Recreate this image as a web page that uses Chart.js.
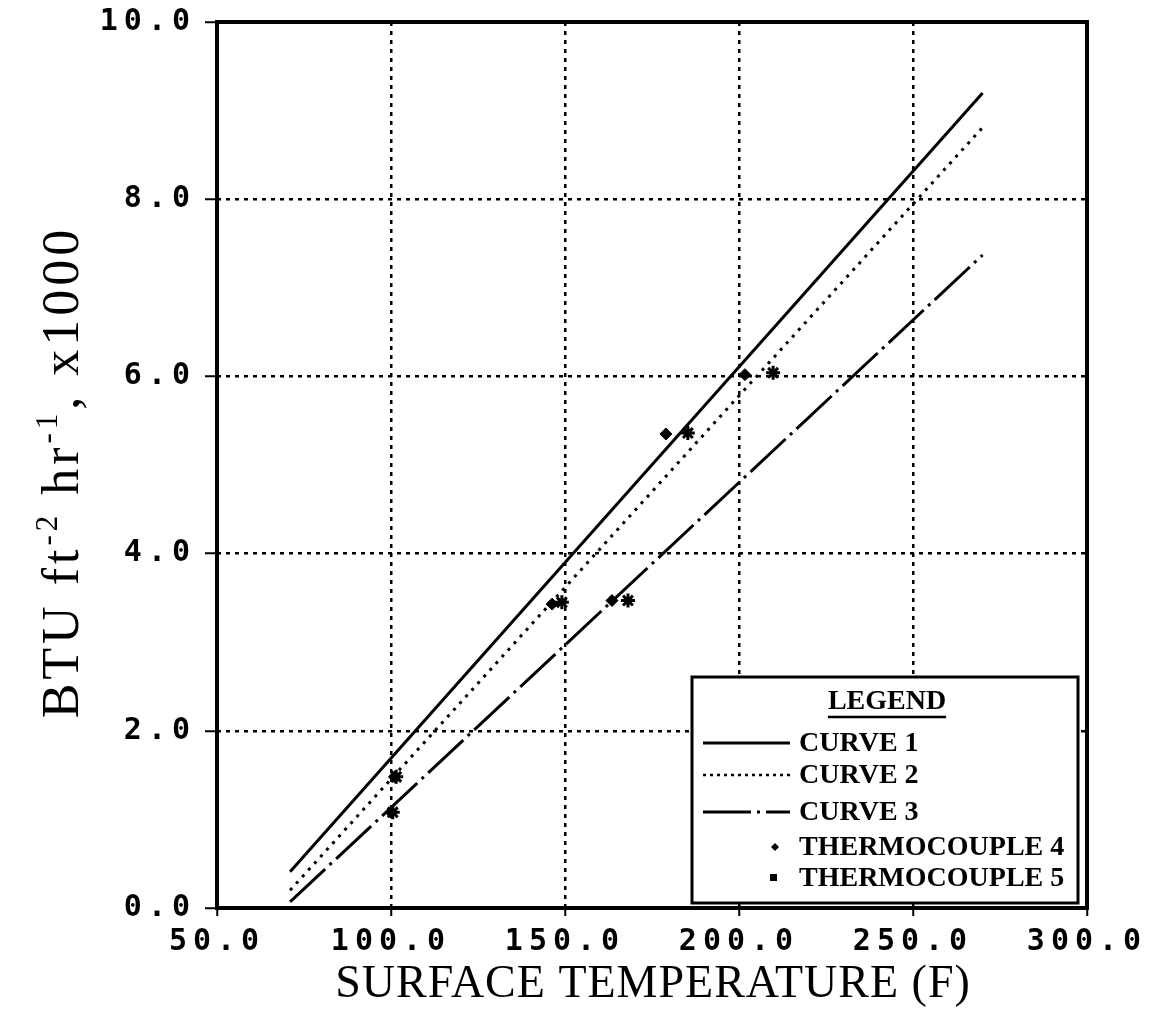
<!DOCTYPE html>
<html>
<head>
<meta charset="utf-8">
<script src="https://cdn.jsdelivr.net/npm/chart.js@4/dist/chart.umd.min.js"></script>
<style>
  html, body { margin: 0; padding: 0; background: #fff; }
  #wrap { width: 1153px; height: 1019px; }
</style>
</head>
<body>
<div id="wrap"><canvas id="chart" width="1153" height="1019"></canvas></div>
<script>
// fitted curves (two end points each)
const curveX = [71, 270];
const curve1Y = [0.41, 9.2];
const curve2Y = [0.2, 8.81];
const curve3Y = [0.07, 7.37];

// measured points
const tc4X = [101, 100, 146.3, 163.5, 179, 201.7];
const tc4Y = [1.48, 1.08, 3.43, 3.47, 5.35, 6.02];
const tc5X = [101.5, 100.5, 149.1, 168.1, 185.3, 209.8];
const tc5Y = [1.48, 1.08, 3.45, 3.47, 5.36, 6.04];

const xTicks = [50, 100, 150, 200, 250, 300];
const yTicks = [0, 2, 4, 6, 8, 10];

const legendItems = ["CURVE 1", "CURVE 2", "CURVE 3", "THERMOCOUPLE 4", "THERMOCOUPLE 5"];

function pts(xs, ys) {
  return xs.map((x, i) => ({ x: x, y: ys[i] }));
}

const PLOT = { left: 217, right: 1087, top: 22, bottom: 908 };

// draws text runs (normal + superscript) left to right, returns width
function runs(ctx, parts, x, y, size, draw) {
  let cx = x;
  parts.forEach(p => {
    const s = p.sup ? Math.round(size * 0.6) : size;
    ctx.font = s + "px 'Liberation Serif'";
    if (draw) ctx.fillText(p.t, cx, p.sup ? y - size * 0.4 : y);
    cx += ctx.measureText(p.t).width;
  });
  return cx - x;
}

const framePlugin = {
  id: "frame",
  beforeDraw(chart) {
    chart.ctx.letterSpacing = "6px";
  },
  afterDraw(chart) {
    const ctx = chart.ctx;
    const a = chart.chartArea;
    ctx.save();
    ctx.letterSpacing = "0px";
    ctx.strokeStyle = "#000";
    ctx.lineWidth = 4;
    ctx.setLineDash([]);
    ctx.strokeRect(a.left, a.top, a.right - a.left, a.bottom - a.top);

    // axis titles
    ctx.fillStyle = "#000";
    ctx.letterSpacing = "1px";
    ctx.font = "46px 'Liberation Serif'";
    ctx.textAlign = "center";
    ctx.textBaseline = "middle";
    ctx.fillText("SURFACE TEMPERATURE (F)", 653, 985);

    const yt = [
      { t: "BTU ft" }, { t: "-2", sup: true }, { t: " hr" }, { t: "-1", sup: true }, { t: ", x1000" }
    ];
    ctx.save();
    ctx.translate(78, 472);
    ctx.rotate(-Math.PI / 2);
    ctx.textAlign = "left";
    ctx.textBaseline = "alphabetic";
    ctx.letterSpacing = "4px";
    const w = runs(ctx, yt, 0, 0, 52, false);
    runs(ctx, yt, -w / 2, 0, 52, true);
    ctx.restore();
    ctx.letterSpacing = "0px";

    // legend box
    const bx = 692, by = 677, bw = 386, bh = 226;
    ctx.fillStyle = "#fff";
    ctx.fillRect(bx, by, bw, bh);
    ctx.lineWidth = 3;
    ctx.strokeRect(bx, by, bw, bh);
    ctx.fillStyle = "#000";
    ctx.font = "bold 28px 'Liberation Serif'";
    ctx.textAlign = "center";
    ctx.textBaseline = "middle";
    ctx.fillText("LEGEND", 887, 702);
    const lw = ctx.measureText("LEGEND").width;
    ctx.lineWidth = 2.5;
    ctx.beginPath();
    ctx.moveTo(887 - lw / 2, 717);
    ctx.lineTo(887 + lw / 2, 717);
    ctx.stroke();

    const rows = [743, 775, 812, 847, 878];
    const ds = chart.data.datasets;
    ctx.textAlign = "left";
    rows.forEach((y, i) => {
      const d = ds[i];
      ctx.fillText(legendItems[i], 799, y + 1);
      if (i < 3) {
        ctx.lineWidth = i === 1 ? 2.5 : 3;
        ctx.setLineDash(i === 1 ? [3, 4] : (d.borderDash || []));
        ctx.beginPath();
        ctx.moveTo(703, y);
        ctx.lineTo(790, y);
        ctx.stroke();
        ctx.setLineDash([]);
      } else if (i === 3) {
        ctx.beginPath();
        ctx.moveTo(775, y - 4); ctx.lineTo(779, y); ctx.lineTo(775, y + 4); ctx.lineTo(771, y);
        ctx.closePath();
        ctx.fill();
      } else {
        ctx.fillRect(770, y - 4, 7, 7);
      }
    });
    ctx.restore();
  }
};

new Chart(document.getElementById("chart"), {
  type: "scatter",
  data: {
    datasets: [
      { label: "CURVE 1", data: pts(curveX, curve1Y), showLine: true, borderColor: "#000", borderWidth: 3, pointRadius: 0 },
      { label: "CURVE 2", data: pts(curveX, curve2Y), showLine: true, borderColor: "#000", borderWidth: 3, borderDash: [3, 6], pointRadius: 0 },
      { label: "CURVE 3", data: pts(curveX, curve3Y), showLine: true, borderColor: "#000", borderWidth: 3, borderDash: [48, 6, 3, 6], pointRadius: 0 },
      { label: "THERMOCOUPLE 4", data: pts(tc4X, tc4Y), showLine: false, pointStyle: "rectRot", pointRadius: 6, backgroundColor: "#000", borderColor: "#000", borderWidth: 1 },
      { label: "THERMOCOUPLE 5", data: pts(tc5X, tc5Y), showLine: false, pointStyle: "star", pointRadius: 7, backgroundColor: "#000", borderColor: "#000", borderWidth: 3 }
    ]
  },
  options: {
    responsive: false,
    animation: false,
    layout: { padding: { top: PLOT.top, right: 1153 - PLOT.right, left: 0, bottom: 0 } },
    plugins: { legend: { display: false }, tooltip: { enabled: false } },
    scales: {
      x: {
        type: "linear",
        min: 50, max: 300,
        afterBuildTicks(scale) { scale.ticks = xTicks.map(v => ({ value: v })); },
        afterFit(scale) {
          scale.height = 1019 - PLOT.bottom;
          scale.paddingLeft = 0; scale.paddingRight = 0;
        },
        ticks: {
          color: "#000",
          font: { family: "'DejaVu Sans Mono'", size: 30, weight: "bold" },
          padding: 8,
          maxRotation: 0,
          callback: v => v.toFixed(1)
        },
        grid: { color: "#000", lineWidth: 2.5, tickLength: 8, tickBorderDash: [], tickWidth: 2 },
        border: { display: false, dash: [4, 5] }
      },
      y: {
        type: "linear",
        min: 0, max: 10,
        afterBuildTicks(scale) { scale.ticks = yTicks.map(v => ({ value: v })); },
        afterFit(scale) {
          scale.width = PLOT.left;
          scale.paddingTop = 0; scale.paddingBottom = 0;
        },
        ticks: {
          color: "#000",
          font: { family: "'DejaVu Sans Mono'", size: 30, weight: "bold" },
          padding: 9,
          callback: v => v.toFixed(1)
        },
        grid: { color: "#000", lineWidth: 2.5, tickLength: 12, tickBorderDash: [], tickWidth: 2 },
        border: { display: false, dash: [4, 5] }
      }
    }
  },
  plugins: [framePlugin]
});
</script>
</body>
</html>
